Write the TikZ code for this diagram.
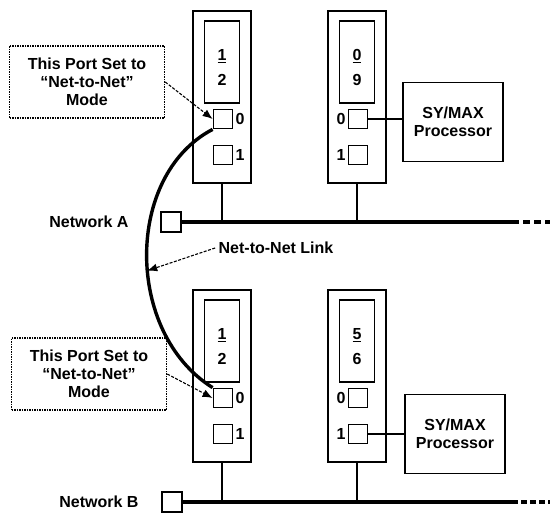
\documentclass[tikz,border=0pt]{standalone}
\usepackage{fontspec}
\setmainfont{Liberation Sans}
\usetikzlibrary{positioning,arrows.meta,calc}

\begin{document}
\begin{tikzpicture}[x=1pt,y=-1pt,font=\fontsize{16}{18}\selectfont\bfseries,
  module/.style={draw,line width=2.2pt,minimum width=58pt,minimum height=172pt,inner sep=0pt},
  display/.style={draw,line width=1.8pt,minimum width=35pt,minimum height=82pt,inner sep=0pt},
  port/.style={draw,line width=1.8pt,minimum size=19pt,inner sep=0pt},
  term/.style={draw,line width=1.8pt,minimum size=20pt,inner sep=0pt},
  note/.style={draw,densely dotted,line width=1.5pt,minimum width=155pt,minimum height=72pt,align=center,inner sep=2pt},
  proc/.style={draw,line width=1.8pt,minimum width=100pt,minimum height=79pt,align=center,inner sep=2pt},
  bus/.style={line width=4.5pt},
  stem/.style={line width=2.6pt},
  wire/.style={line width=1.8pt},
  link/.style={line width=3.4pt},
  callout/.style={dash pattern=on 3pt off 1.5pt,line width=1.1pt,-{Latex[length=10pt,width=8pt]}}]
  \useasboundingbox (0,0) rectangle (550,516);
  % the four interface modules
  \foreach \nm/\x/\y/\hi/\lo/\lside in {ua/222/97/1/2/right, ub/357/97/0/9/left, la/222/376/1/2/right, lb/357/376/5/6/left}{
    \node[module] (\nm) at (\x,\y) {};
    \node[display] (\nm-d) at (\x,\y-35) {};
    \node (\nm-t) at (\x,\y-41) {\underline{\hi}};
    \node (\nm-b) at (\x,\y-17) {\lo};
    \node[port,label={[inner sep=2pt]\lside:0}] (\nm-p0) at (\x+1,\y+22) {};
    \node[port,label={[inner sep=2pt]\lside:1}] (\nm-p1) at (\x+1,\y+58) {};
  }
  % networks
  \node[term] (ta) at (171,222) {};
  \node[left=28pt of ta] (neta) {Network A};
  \coordinate (enda) at (512,222);
  \coordinate (taila) at (550,222);
  \draw[bus] (ta.east) -- (enda);
  \draw[bus,dash pattern=on 7pt off 4pt] (enda) -- (taila);
  \node[term] (tb) at (172,502) {};
  \node[left=19pt of tb] (netb) {Network B};
  \coordinate (endb) at (512,502);
  \coordinate (tailb) at (550,502);
  \draw[bus] (tb.east) -- (endb);
  \draw[bus,dash pattern=on 6pt off 3pt] (endb) -- (tailb);
  \foreach \nm/\e in {ua/enda, ub/enda, la/endb, lb/endb}
    \draw[stem] (\nm.south) -- (\nm.south |- \e);
  % processors
  \node[proc] (sysa) at (453,122) {SY/MAX\\Processor};
  \node[proc] (sysb) at (455,434) {SY/MAX\\Processor};
  \draw[wire] (ub-p0.east) -- (ub-p0.east -| sysa.west);
  \draw[wire] (lb-p1.east) -- (lb-p1.east -| sysb.west);
  % net-to-net link
  \draw[link] (ua-p0.south west) .. controls +(-88,46) and +(-88,-55) .. (la-p0.north west) coordinate[pos=0.55] (linkpt);
  \node (netlink) at (276,248) {Net-to-Net Link};
  \draw[callout] (netlink.west) -- (linkpt);
  % callouts
  \node[note] (notea) at (87,82) {This Port Set to\\“Net-to-Net”\\Mode};
  \node[note] (noteb) at (89,374) {This Port Set to\\“Net-to-Net”\\Mode};
  \draw[callout] (notea.east) -- (ua-p0.west);
  \draw[callout] (noteb.east) -- (la-p0.west);
\end{tikzpicture}
\end{document}
